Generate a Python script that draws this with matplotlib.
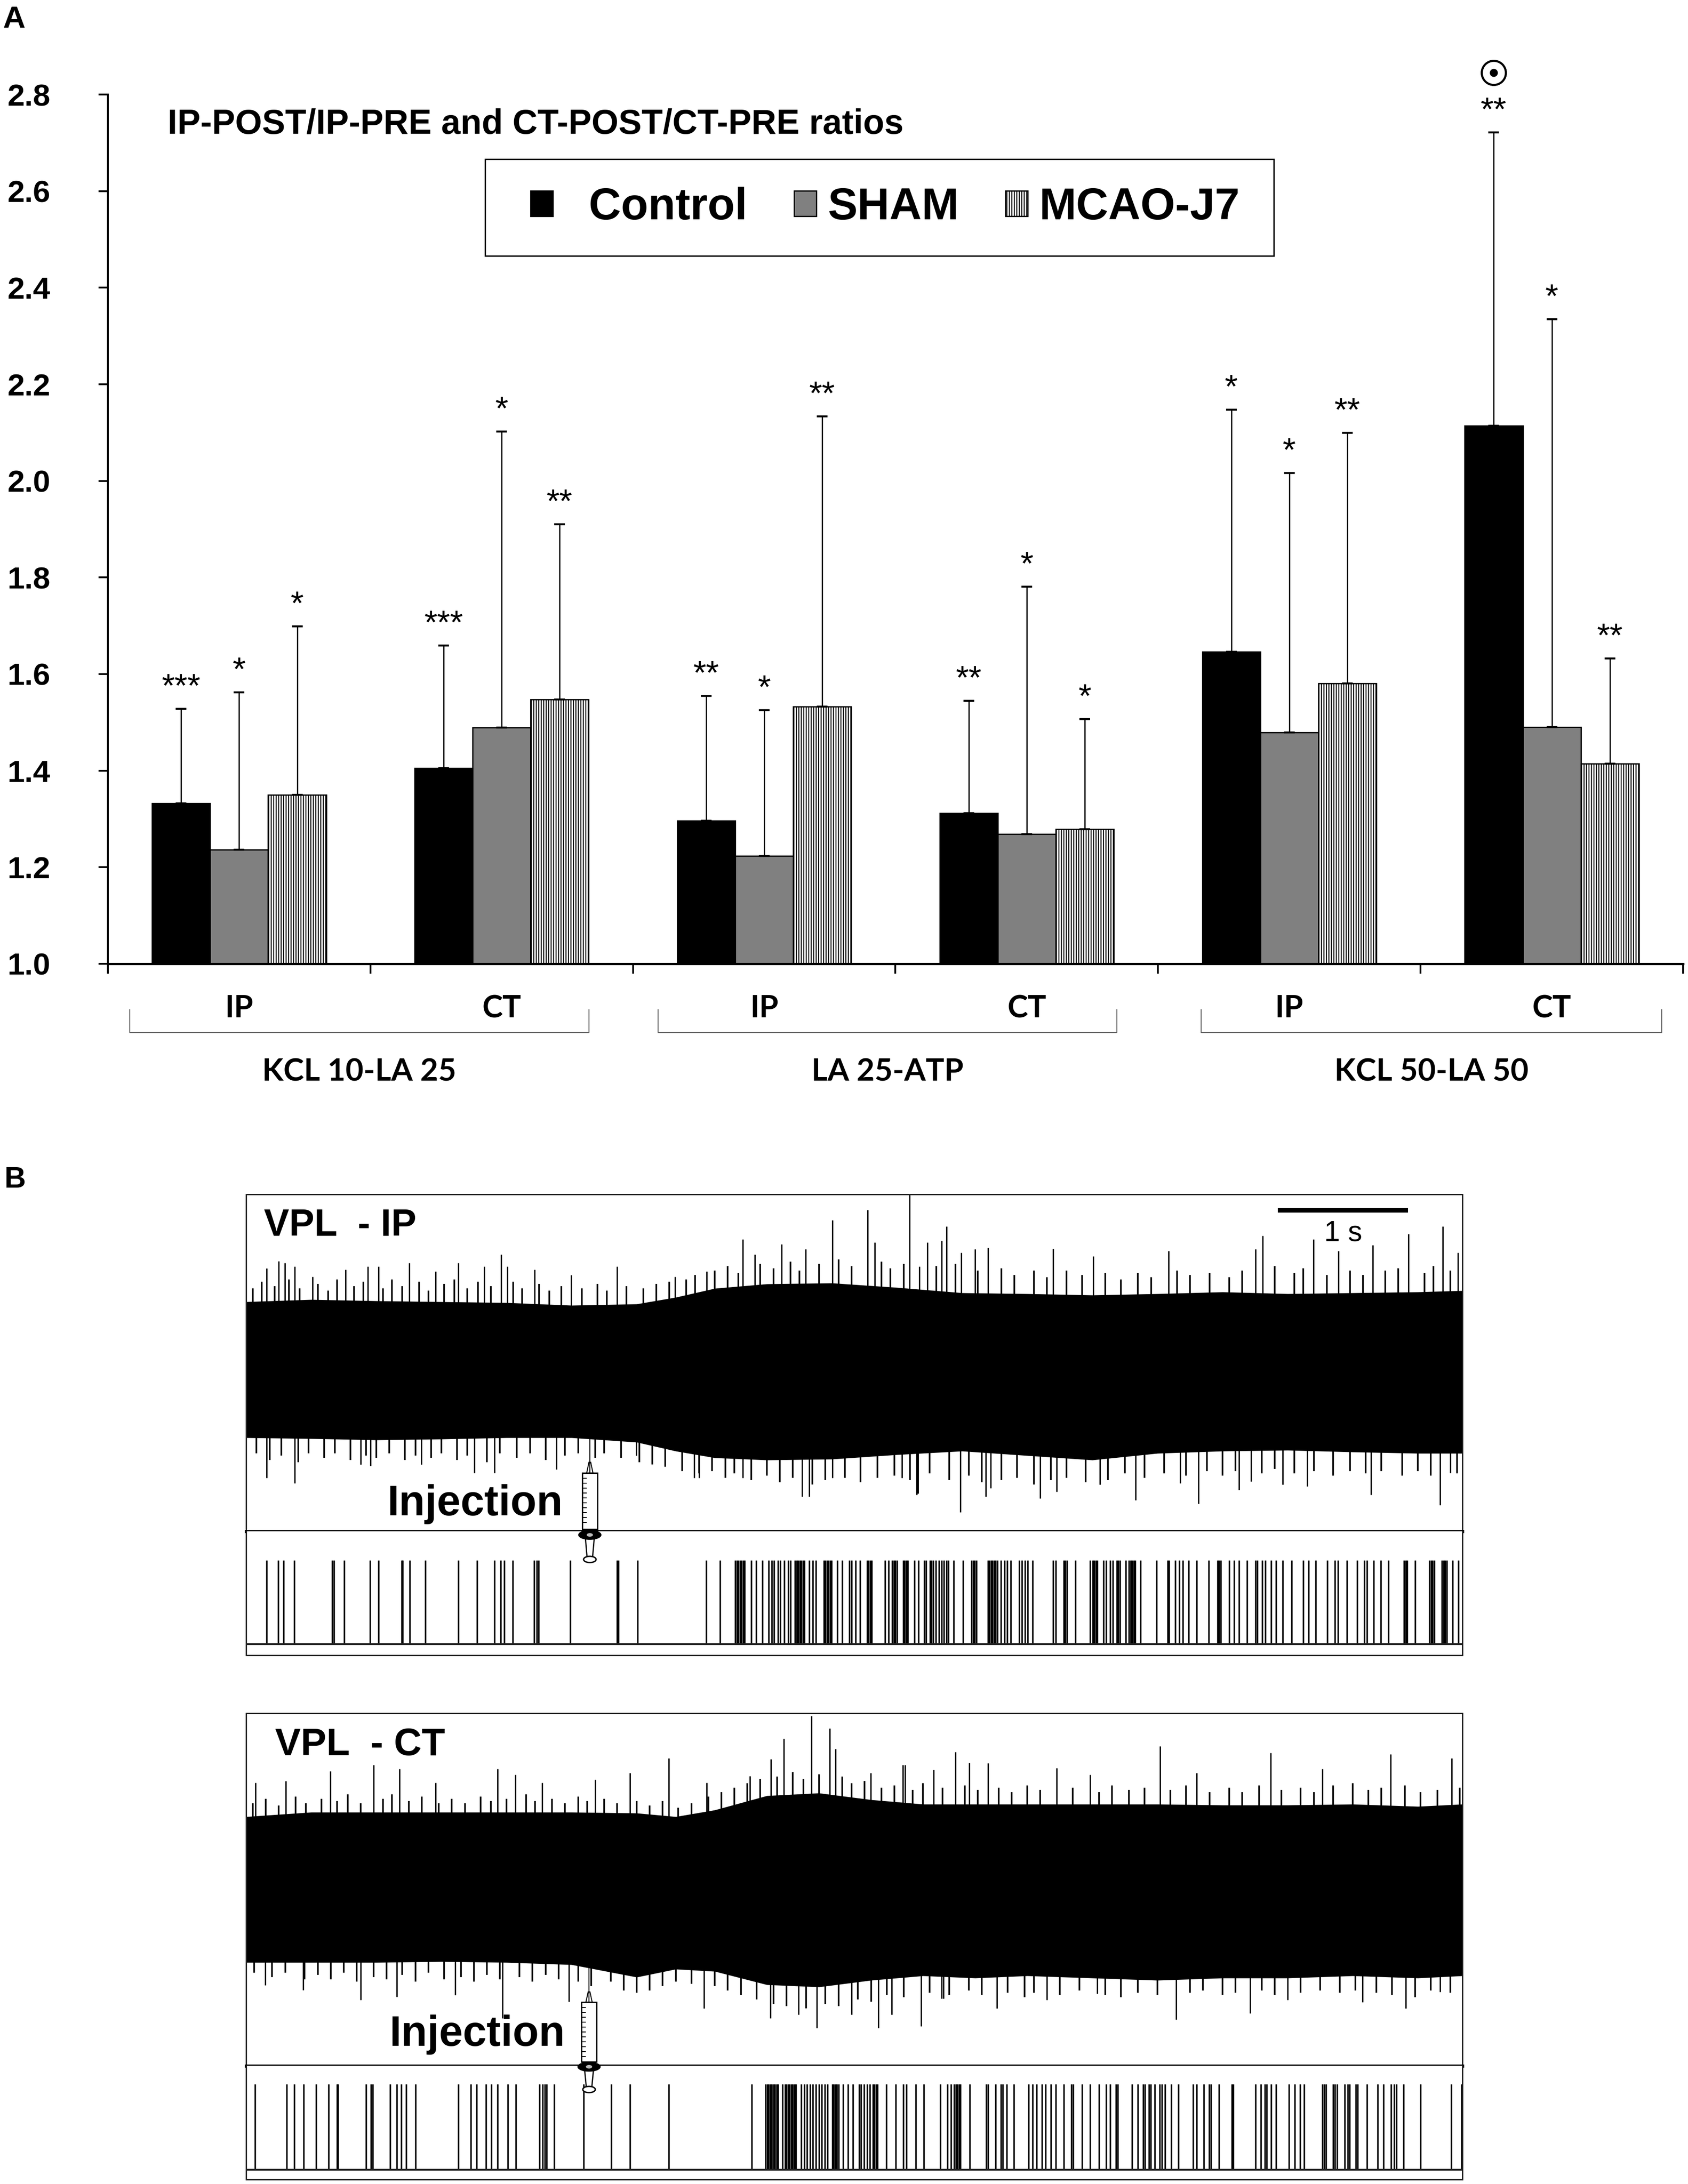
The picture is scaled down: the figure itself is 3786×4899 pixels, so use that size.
import matplotlib
matplotlib.use('Agg')
import matplotlib.pyplot as plt
from matplotlib.patches import Rectangle, Ellipse, Polygon
from matplotlib.lines import Line2D
import numpy as np

# ---------------- DATA : panel A ----------------
groups = ['KCL 10-LA 25', 'LA 25-ATP', 'KCL 50-LA 50']
sides = ['IP', 'CT', 'IP', 'CT', 'IP', 'CT']
series = ['Control', 'SHAM', 'MCAO-J7']
control_mean = [1.332, 1.405, 1.296, 1.312, 1.646, 2.114]
control_sd = [0.196, 0.254, 0.259, 0.233, 0.501, 0.608]
sham_mean = [1.236, 1.489, 1.223, 1.269, 1.479, 1.490]
sham_sd = [0.326, 0.613, 0.302, 0.512, 0.537, 0.845]
mcao_mean = [1.350, 1.547, 1.533, 1.279, 1.581, 1.414]
mcao_sd = [0.349, 0.363, 0.601, 0.228, 0.518, 0.218]
control_sig = ['***', '***', '**', '**', '*', '**']
sham_sig = ['*', '*', '*', '*', '*', '*']
mcao_sig = ['*', '**', '**', '*', '**', '**']
special_mark_index = 5          # circled-dot above Control, KCL 50-LA 50 CT
bracket_x0 = [-0.417, 1.596, 3.664]
bracket_x1 = [1.333, 3.343, 5.419]
yticks = [1.0, 1.2, 1.4, 1.6, 1.8, 2.0, 2.2, 2.4, 2.6, 2.8]

# ---------------- DATA : panel B (time in s, amplitude in a.u.) ----------------
duration = 9.342
scale_bar_s = 1.0
injection_t = [2.64, 2.634]

tr1_env_t = [0, 0.5, 1.0, 1.5, 2.0, 2.5, 3.0, 3.3, 3.6, 4.0, 4.5, 5.0, 5.5, 6.0, 6.5, 7.0, 7.5, 8.0, 8.5, 9.0, 9.342]
tr1_env_up = [155, 160, 157, 155, 153, 147, 150, 165, 185, 195, 197, 187, 175, 173, 170, 173, 177, 173, 175, 177, 180]
tr1_env_lo = [150, 152, 155, 153, 150, 150, 160, 180, 195, 200, 198, 188, 180, 190, 200, 185, 180, 178, 182, 185, 185]
tr1_up_t = [0.156, 0.249, 0.297, 0.372, 0.509, 0.762, 0.936, 1.018, 1.252, 1.456, 1.631, 1.827, 1.958, 2.006, 2.217,
            2.496, 2.849, 3.295, 3.536, 3.815, 3.908, 4.112, 4.298, 4.502, 4.773, 4.829, 5.096, 5.170, 5.232, 5.341,
            5.380, 5.493, 5.598, 5.700, 6.199, 6.508, 7.085, 7.752, 7.807, 8.197, 8.391, 8.653, 8.926, 9.191, 9.308]
tr1_up_a = [230, 246, 242, 234, 211, 227, 234, 234, 242, 223, 242, 234, 261, 234, 227,
            215, 234, 211, 223, 295, 261, 284, 273, 338, 361, 288, 396, 234, 288, 292,
            324, 265, 273, 276, 274, 257, 269, 273, 303, 295, 269, 282, 307, 324, 265]
tr1_lo_t = [0.156, 0.372, 0.880, 0.955, 1.345, 1.753, 1.909, 2.385, 2.998, 3.443, 3.480, 3.815, 4.272, 4.324, 4.502,
            5.037, 5.152, 5.162, 5.486, 5.681, 5.720, 6.098, 6.227, 6.558, 6.831, 7.175, 7.315, 7.627, 7.720, 7.962,
            8.149, 8.641, 9.172, 9.249]
tr1_lo_a = [240, 252, 210, 213, 210, 229, 229, 221, 190, 240, 240, 240, 282, 282, 240,
            240, 278, 275, 317, 282, 263, 286, 271, 255, 290, 252, 298, 267, 248, 255,
            259, 278, 301, 229]
# fringe (smaller deflections forming the hairy edge of the band)
tr1_fu_t = [0.05, 0.12, 0.22, 0.33, 0.41, 0.55, 0.63, 0.70, 0.83, 0.90, 1.05, 1.12, 1.20, 1.33, 1.40, 1.52, 1.60,
            1.70, 1.78, 1.88, 2.05, 2.12, 2.25, 2.33, 2.42, 2.58, 2.70, 2.77, 2.92, 3.05, 3.15, 3.25, 3.38, 3.45,
            3.60, 3.70, 3.78, 3.95, 4.05, 4.18, 4.25, 4.40, 4.55, 4.65, 4.88, 4.95, 5.05, 5.30, 5.45, 5.62, 5.80,
            5.90, 6.05, 6.15, 6.30, 6.42, 6.60, 6.72, 6.85, 6.95, 7.15, 7.25, 7.40, 7.55, 7.65, 7.90, 8.05, 8.12,
            8.30, 8.48, 8.58, 8.75, 8.85, 9.05, 9.12, 9.25]
tr1_fu_a = [185, 200, 190, 205, 185, 195, 180, 205, 190, 200, 185, 205, 190, 200, 180, 195, 205,
            185, 200, 190, 200, 185, 195, 180, 190, 185, 195, 180, 190, 185, 195, 200, 205, 215,
            225, 235, 220, 240, 230, 245, 225, 240, 250, 235, 245, 230, 240, 235, 240, 225, 230,
            215, 225, 210, 225, 215, 220, 205, 220, 210, 225, 215, 220, 210, 225, 235, 220, 230,
            215, 225, 215, 225, 230, 220, 235, 225]
tr1_fl_t = [0.08, 0.18, 0.27, 0.40, 0.48, 0.60, 0.68, 0.80, 0.92, 1.00, 1.10, 1.22, 1.30, 1.42, 1.50, 1.62, 1.70,
            1.85, 1.95, 2.08, 2.18, 2.30, 2.45, 2.55, 2.68, 2.75, 2.88, 3.02, 3.12, 3.22, 3.35, 3.48, 3.58, 3.68,
            3.75, 3.88, 4.00, 4.10, 4.20, 4.35, 4.45, 4.60, 4.72, 4.85, 4.98, 5.10, 5.25, 5.40, 5.55, 5.65, 5.80,
            5.92, 6.05, 6.18, 6.30, 6.45, 6.62, 6.75, 6.90, 7.05, 7.22, 7.38, 7.50, 7.60, 7.80, 7.90, 8.05, 8.20,
            8.35, 8.48, 8.60, 8.72, 8.88, 9.00, 9.10, 9.30]
tr1_fl_a = [185, 200, 190, 205, 185, 195, 185, 200, 190, 195, 185, 200, 190, 195, 185, 200, 190,
            205, 185, 195, 185, 200, 190, 185, 195, 185, 195, 205, 210, 215, 225, 230, 225, 240,
            230, 245, 235, 250, 240, 255, 245, 240, 250, 240, 235, 245, 230, 245, 235, 250, 245,
            240, 255, 245, 240, 250, 245, 230, 240, 230, 235, 225, 235, 225, 230, 220, 230, 225,
            235, 225, 230, 225, 235, 225, 235, 230]

tr2_env_t = [0, 0.5, 1.0, 1.5, 2.0, 2.5, 3.0, 3.3, 3.6, 4.0, 4.4, 4.8, 5.2, 5.6, 6.0, 6.5, 7.0, 7.5, 8.0, 8.5, 9.0, 9.342]
tr2_env_up = [165, 175, 175, 175, 175, 175, 173, 165, 180, 212, 218, 203, 193, 193, 193, 193, 193, 191, 191, 193, 188, 193]
tr2_env_lo = [162, 162, 162, 160, 162, 167, 195, 177, 182, 212, 217, 202, 192, 197, 192, 197, 202, 197, 197, 192, 197, 192]
tr2_up_t = [0.071, 0.305, 0.646, 0.981, 1.178, 1.456, 1.932, 2.070, 2.273, 2.682, 2.949, 3.247, 3.536, 3.871, 4.030,
            4.131, 4.343, 4.483, 4.528, 4.799, 5.045, 5.060, 5.282, 5.447, 5.555, 5.700, 6.227, 6.481, 7.020, 7.300,
            7.869, 8.268, 8.789, 9.261]
tr2_up_a = [241, 245, 267, 281, 272, 241, 272, 259, 241, 248, 263, 296, 241, 256, 294,
            340, 391, 363, 317, 263, 281, 281, 270, 310, 286, 285, 274, 259, 323, 263,
            308, 272, 305, 296]
tr2_lo_t = [0.148, 0.439, 0.880, 1.159, 1.605, 1.969, 2.478, 3.518, 4.026, 4.242, 4.384, 4.650, 4.855, 4.959, 5.185,
            5.341, 5.356, 5.767, 6.149, 6.539, 7.143, 7.713, 8.001, 8.574, 8.906, 9.171]
tr2_lo_a = [213, 224, 246, 239, 235, 287, 250, 265, 287, 279, 309, 279, 309, 279, 305,
            243, 243, 265, 246, 232, 290, 276, 246, 251, 265, 228]
tr2_fu_t = [0.05, 0.15, 0.25, 0.38, 0.46, 0.58, 0.70, 0.78, 0.88, 1.05, 1.12, 1.25, 1.35, 1.48, 1.58, 1.68, 1.80,
            1.88, 2.00, 2.15, 2.22, 2.35, 2.45, 2.55, 2.62, 2.75, 2.85, 3.00, 3.10, 3.20, 3.32, 3.42, 3.55, 3.65,
            3.75, 3.85, 3.95, 4.08, 4.20, 4.28, 4.40, 4.58, 4.65, 4.75, 4.88, 4.98, 5.12, 5.20, 5.35, 5.52, 5.62,
            5.78, 5.88, 6.00, 6.10, 6.35, 6.55, 6.65, 6.78, 6.90, 7.10, 7.22, 7.40, 7.55, 7.65, 7.78, 7.95, 8.10,
            8.20, 8.35, 8.50, 8.62, 8.72, 8.90, 9.02, 9.15, 9.32]
tr2_fu_a = [195, 205, 190, 210, 195, 205, 200, 215, 195, 205, 215, 200, 210, 195, 205, 195, 210,
            200, 205, 215, 200, 205, 195, 210, 200, 205, 195, 200, 190, 200, 185, 195, 210, 220,
            230, 240, 250, 255, 265, 250, 260, 255, 240, 245, 230, 235, 225, 240, 230, 235, 225,
            230, 220, 235, 225, 230, 220, 235, 225, 230, 225, 235, 220, 230, 220, 235, 225, 230,
            220, 235, 240, 225, 230, 235, 220, 225, 230]
tr2_fl_t = [0.06, 0.20, 0.30, 0.45, 0.55, 0.65, 0.75, 0.85, 0.98, 1.08, 1.20, 1.30, 1.40, 1.52, 1.65, 1.75, 1.85,
            1.95, 2.10, 2.20, 2.30, 2.40, 2.55, 2.65, 2.80, 2.90, 3.00, 3.10, 3.20, 3.30, 3.42, 3.60, 3.70, 3.80,
            3.92, 4.05, 4.15, 4.30, 4.45, 4.55, 4.70, 4.80, 4.92, 5.05, 5.25, 5.40, 5.55, 5.65, 5.85, 5.98, 6.05,
            6.25, 6.40, 6.60, 6.72, 6.85, 7.00, 7.25, 7.35, 7.50, 7.60, 7.80, 7.90, 8.10, 8.25, 8.40, 8.52, 8.68,
            8.80, 8.98, 9.10, 9.25]
tr2_fl_a = [185, 195, 185, 200, 190, 200, 185, 205, 195, 200, 190, 205, 185, 200, 195, 205, 190,
            200, 195, 205, 190, 200, 205, 215, 205, 225, 230, 225, 215, 205, 210, 215, 225, 235,
            245, 255, 260, 265, 255, 260, 245, 250, 235, 240, 230, 235, 225, 235, 230, 240, 230,
            235, 225, 235, 240, 230, 235, 230, 225, 235, 230, 225, 235, 230, 225, 230, 225, 230,
            235, 240, 225, 230]

raster1 = [0.158, 0.247, 0.289, 0.369, 0.661, 0.673, 0.753, 0.953, 1.018, 1.194, 1.203, 1.257, 1.376, 1.629, 1.775,
           1.906, 1.957, 1.983, 2.049, 2.213, 2.233, 2.248, 2.490, 2.850, 2.859, 3.005, 3.535, 3.639, 3.758, 3.770,
           3.782, 3.794, 3.806, 3.818, 3.830, 3.880, 3.916, 3.967, 4.014, 4.038, 4.056, 4.086, 4.104, 4.133, 4.163,
           4.181, 4.217, 4.229, 4.241, 4.253, 4.264, 4.276, 4.288, 4.324, 4.354, 4.378, 4.437, 4.449, 4.461, 4.473,
           4.485, 4.497, 4.541, 4.580, 4.634, 4.652, 4.680, 4.716, 4.769, 4.781, 4.793, 4.805, 4.906, 4.933, 4.963,
           4.975, 4.987, 4.999, 5.046, 5.058, 5.070, 5.082, 5.133, 5.165, 5.207, 5.222, 5.252, 5.264, 5.276, 5.296,
           5.320, 5.341, 5.359, 5.380, 5.395, 5.436, 5.505, 5.573, 5.585, 5.597, 5.609, 5.698, 5.710, 5.722, 5.734,
           5.746, 5.758, 5.770, 5.797, 5.826, 5.847, 5.874, 5.937, 5.960, 5.981, 6.002, 6.041, 6.199, 6.220, 6.279,
           6.291, 6.303, 6.368, 6.482, 6.502, 6.514, 6.526, 6.538, 6.586, 6.607, 6.636, 6.657, 6.687, 6.699, 6.711,
           6.756, 6.779, 6.794, 6.806, 6.818, 6.830, 6.869, 6.994, 7.077, 7.089, 7.137, 7.167, 7.196, 7.238, 7.301,
           7.393, 7.461, 7.473, 7.485, 7.551, 7.589, 7.628, 7.688, 7.753, 7.768, 7.804, 7.828, 7.872, 7.911, 7.962,
           8.030, 8.120, 8.161, 8.215, 8.304, 8.364, 8.387, 8.456, 8.533, 8.587, 8.608, 8.661, 8.715, 8.775, 8.894,
           8.906, 8.918, 8.980, 9.090, 9.102, 9.114, 9.126, 9.186, 9.198, 9.210, 9.221, 9.266, 9.311]
raster2 = [0.068, 0.310, 0.369, 0.441, 0.536, 0.634, 0.697, 0.706, 0.920, 0.959, 0.974, 1.105, 1.158, 1.191, 1.230,
           1.301, 1.629, 1.727, 1.772, 1.843, 1.885, 1.930, 2.010, 2.073, 2.254, 2.278, 2.293, 2.308, 2.368, 2.594,
           2.805, 2.948, 3.246, 3.883, 3.991, 4.002, 4.014, 4.026, 4.038, 4.050, 4.062, 4.074, 4.086, 4.119, 4.139,
           4.151, 4.163, 4.175, 4.187, 4.199, 4.211, 4.223, 4.264, 4.288, 4.309, 4.333, 4.354, 4.378, 4.399, 4.422,
           4.446, 4.467, 4.503, 4.515, 4.527, 4.538, 4.550, 4.586, 4.622, 4.660, 4.707, 4.722, 4.748, 4.769, 4.790,
           4.814, 4.826, 4.838, 4.850, 4.918, 4.990, 5.046, 5.073, 5.144, 5.204, 5.332, 5.386, 5.413, 5.439, 5.451,
           5.463, 5.475, 5.487, 5.558, 5.683, 5.698, 5.755, 5.797, 5.812, 5.841, 5.898, 6.011, 6.041, 6.071, 6.112,
           6.139, 6.181, 6.220, 6.282, 6.339, 6.354, 6.422, 6.482, 6.550, 6.607, 6.636, 6.681, 6.696, 6.806, 6.848,
           6.890, 6.905, 6.934, 6.949, 6.979, 7.018, 7.033, 7.059, 7.107, 7.161, 7.274, 7.301, 7.357, 7.396, 7.411,
           7.473, 7.572, 7.583, 7.753, 7.795, 7.825, 7.840, 7.872, 7.911, 8.009, 8.054, 8.096, 8.125, 8.265, 8.280,
           8.295, 8.349, 8.364, 8.379, 8.438, 8.462, 8.477, 8.525, 8.536, 8.608, 8.691, 8.736, 8.793, 8.819, 8.834,
           8.891, 9.019, 9.257, 9.334]

# ---------------- FIGURE ----------------
W, H = 3786, 4899
DPI = 100
PT = 72.0 / DPI
plt.rcParams['font.family'] = ['Liberation Sans', 'DejaVu Sans']
plt.rcParams['hatch.linewidth'] = 1.6
plt.rcParams['hatch.color'] = 'black'
fig = plt.figure(figsize=(W / DPI, H / DPI), dpi=DPI)
fig.patch.set_facecolor('white')
LATO = ['Lato', 'Liberation Sans', 'DejaVu Sans']


def rect(x0, y0, x1, y1):
    return [x0 / W, 1 - y1 / H, (x1 - x0) / W, (y1 - y0) / H]


def fx(x):
    return x / W


def fy(y):
    return 1 - y / H


# ================= PANEL A =================
ax = fig.add_axes(rect(242, 212, 3775, 2162))
x = np.arange(len(sides))
bw = 0.221
offs = [-bw, 0.0, bw]
means = [control_mean, sham_mean, mcao_mean]
sds = [control_sd, sham_sd, mcao_sd]
sigs = [control_sig, sham_sig, mcao_sig]
bar_styles = [dict(color='black', edgecolor='black'),
              dict(color='#808080', edgecolor='black'),
              dict(color='white', edgecolor='black', hatch='|||')]
handles = []
for i in range(3):
    b = ax.bar(x + offs[i], np.array(means[i]) - 1.0, bottom=1.0, width=bw,
               linewidth=2.0, zorder=2, label=series[i], **bar_styles[i])
    handles.append(b)
    ax.errorbar(x + offs[i], means[i], yerr=[np.zeros(len(x)), sds[i]], fmt='none',
                ecolor='black', elinewidth=2.0, capsize=8.6, capthick=3.2, zorder=3)
    for j in range(len(x)):
        ax.text(x[j] + offs[i], means[i][j] + sds[i][j] + 0.025, sigs[i][j],
                ha='center', va='baseline', fontsize=54, zorder=4)

k = special_mark_index
ys = control_mean[k] + control_sd[k] + 0.123
ax.plot([x[k] + offs[0]], [ys], marker='o', ms=39, mfc='none', mec='black', mew=3.4,
        clip_on=False, zorder=5)
ax.plot([x[k] + offs[0]], [ys], marker='o', ms=12, color='black', clip_on=False, zorder=5)

ax.set_xlim(-0.5, 5.5)
ax.set_ylim(1.0, 2.8)
ax.set_yticks(yticks)
ax.set_yticklabels([f'{v:.1f}' for v in yticks], fontweight='bold')
ax.set_xticks(np.arange(-0.5, 5.6, 1.0))
ax.set_xticklabels([])
ax.tick_params(axis='y', length=21 * PT, width=4 * PT, pad=108 * PT, labelsize=50, direction='out')
ax.tick_params(axis='x', length=22 * PT, width=4 * PT, direction='out')
for s in ['top', 'right']:
    ax.spines[s].set_visible(False)
ax.spines['left'].set_linewidth(4 * PT)
ax.spines['bottom'].set_linewidth(5 * PT)
ax.set_facecolor('none')

for j, sd in enumerate(sides):
    ax.text(x[j], 0.889, sd, ha='center', va='baseline', fontsize=50,
            fontweight='bold', family=LATO, clip_on=False)
for g in range(len(groups)):
    bx0, bx1 = bracket_x0[g], bracket_x1[g]
    ax.plot([bx0, bx0, bx1, bx1], [0.905, 0.858, 0.858, 0.905], color='#666666',
            lw=2.2 * PT, clip_on=False, solid_joinstyle='round')
    ax.text((bx0 + bx1) / 2, 0.758, groups[g], ha='center', va='baseline', fontsize=50,
            fontweight='bold', family=LATO, clip_on=False)

fig.text(fx(376), fy(300), 'IP-POST/IP-PRE and CT-POST/CT-PRE ratios', fontsize=56,
         fontweight='bold', ha='left', va='baseline')
fig.add_artist(Rectangle((fx(1088), fy(574)), (2857 - 1088) / W, (574 - 357) / H,
                         transform=fig.transFigure, fill=False, ec='black', lw=3 * PT))
ax.legend(handles=handles, labels=['  ' + series[0], series[1], series[2]], ncol=3, frameon=False,
          loc='center', bbox_to_anchor=(fx(1985), fy(466)), bbox_transform=fig.transFigure,
          prop=dict(weight='bold', size=72), handlelength=0.5, handleheight=0.5,
          handletextpad=0.25, columnspacing=1.05, borderpad=0, borderaxespad=0)

fig.text(fx(6), fy(62), 'A', fontsize=50, fontweight='bold', ha='left', va='baseline')
fig.text(fx(10), fy(2664), 'B', fontsize=48, fontweight='bold', ha='left', va='baseline')


# ================= PANEL B =================
def trace_panel(tr_box, ras_box, center_px, env_t, env_up, env_lo, up_t, up_a, lo_t, lo_a,
                fu_t, fu_a, fl_t, fl_a, raster, ras_base, ras_top):
    x0, y0, x1, ysep = tr_box
    tax = fig.add_axes(rect(x0, y0, x1, ysep))
    tax.set_xlim(0, duration)
    tax.set_ylim(center_px - ysep, center_px - y0)
    tax.fill_between(env_t, -np.array(env_lo), env_up, color='black', lw=0)
    tax.vlines(fu_t, 0, fu_a, color='black', lw=2.6)
    tax.vlines(fl_t, -np.array(fl_a), 0, color='black', lw=2.6)
    tax.vlines(up_t, 0, up_a, color='black', lw=2.2)
    tax.vlines(lo_t, -np.array(lo_a), 0, color='black', lw=2.2)
    tax.set_xticks([])
    tax.set_yticks([])
    for s in ['top', 'left', 'right']:
        tax.spines[s].set_linewidth(3 * PT)
        tax.spines[s].set_color('#222222')
    tax.spines['bottom'].set_linewidth(7 * PT)
    tax.spines['bottom'].set_color('black')

    rx0, ry0, rx1, ry1 = ras_box
    rax = fig.add_axes(rect(rx0, ry0, rx1, ry1))
    rax.set_xlim(0, duration)
    rax.set_ylim(0, 1)
    fb = (ry1 - ras_base) / (ry1 - ry0)
    ft = (ry1 - ras_top) / (ry1 - ry0)
    rax.vlines(raster, fb, ft, color='black', lw=2.5)
    rax.axhline(fb, color='#222222', lw=4 * PT)
    rax.set_xticks([])
    rax.set_yticks([])
    rax.spines['top'].set_visible(False)
    for s in ['bottom', 'left', 'right']:
        rax.spines[s].set_linewidth(3 * PT)
        rax.spines[s].set_color('#222222')
    return tax, rax


def draw_syringe(tax, t, needle_top, cone_top, barrel_top, barrel_bot, flange_y, rod_bot):
    c = tax.transData.transform((t, 0))[0]
    tf = fig.transFigure
    fig.add_artist(Line2D([fx(c), fx(c)], [fy(needle_top), fy(barrel_top)], color='black',
                          lw=1.6, transform=tf))
    fig.add_artist(Polygon([(fx(c - 7), fy(barrel_top)), (fx(c + 7), fy(barrel_top)),
                            (fx(c + 2), fy(cone_top)), (fx(c - 2), fy(cone_top))],
                           closed=True, fc='white', ec='black', lw=1.6, transform=tf))
    fig.add_artist(Rectangle((fx(c - 17), fy(barrel_bot)), 34 / W, (barrel_bot - barrel_top) / H,
                             fc='white', ec='black', lw=2.2, transform=tf))
    yy = barrel_top + 12
    while yy < barrel_bot - 8:
        fig.add_artist(Line2D([fx(c - 17), fx(c - 8)], [fy(yy), fy(yy)], color='black',
                              lw=1.4, transform=tf))
        yy += 11
    fig.add_artist(Polygon([(fx(c - 10), fy(flange_y + 6)), (fx(c + 10), fy(flange_y + 6)),
                            (fx(c + 6), fy(rod_bot)), (fx(c - 6), fy(rod_bot))],
                           closed=True, fc='white', ec='black', lw=2.0, transform=tf))
    fig.add_artist(Ellipse((fx(c), fy(flange_y)), 50 / W, 20 / H, fc='black', ec='black',
                           lw=1.5, transform=tf))
    fig.add_artist(Ellipse((fx(c), fy(flange_y)), 14 / W, 8 / H, fc='#bbbbbb', ec='none',
                           transform=tf))
    fig.add_artist(Ellipse((fx(c), fy(rod_bot + 3)), 28 / W, 14 / H, fc='white', ec='black',
                           lw=2.2, transform=tf))


tax1, rax1 = trace_panel((552, 2679, 3280, 3435), (552, 3435, 3280, 3713), 3075,
                         tr1_env_t, tr1_env_up, tr1_env_lo, tr1_up_t, tr1_up_a, tr1_lo_t, tr1_lo_a,
                         tr1_fu_t, tr1_fu_a, tr1_fl_t, tr1_fl_a, raster1, 3688, 3500)
tax2, rax2 = trace_panel((552, 3843, 3280, 4634), (552, 4634, 3280, 4889), 4240,
                         tr2_env_t, tr2_env_up, tr2_env_lo, tr2_up_t, tr2_up_a, tr2_lo_t, tr2_lo_a,
                         tr2_fu_t, tr2_fu_a, tr2_fl_t, tr2_fl_a, raster2, 4867, 4675)

# scale bar (1 s) in panel B1
sb_t0 = 7.925
tax1.plot([sb_t0, sb_t0 + scale_bar_s], [360, 360], color='black', lw=10 * PT, solid_capstyle='butt')
tax1.text(sb_t0 + scale_bar_s / 2, 292, '1 s', ha='center', va='baseline', fontsize=46)

fig.text(fx(592), fy(2772), 'VPL  - IP', fontsize=61, fontweight='bold', ha='left', va='baseline')
fig.text(fx(617), fy(3937), 'VPL  - CT', fontsize=62, fontweight='bold', ha='left', va='baseline')
fig.text(fx(869), fy(3399), 'Injection', fontsize=69, fontweight='bold', ha='left', va='baseline')
fig.text(fx(874), fy(4589), 'Injection', fontsize=69, fontweight='bold', ha='left', va='baseline')

draw_syringe(tax1, injection_t[0], 3215, 3280, 3304, 3430, 3443, 3495)
draw_syringe(tax2, injection_t[1], 4405, 4468, 4491, 4625, 4636, 4684)

fig.savefig('out.png', dpi=DPI, facecolor='white')
